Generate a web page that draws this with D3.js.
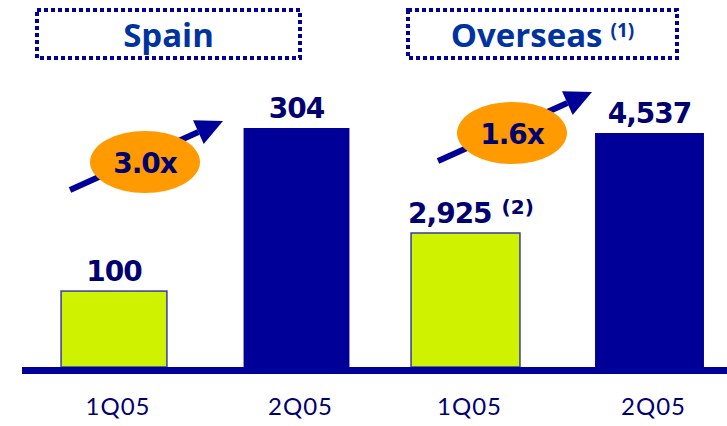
<!DOCTYPE html>
<html>
<head>
<meta charset="utf-8">
<script src="https://cdn.jsdelivr.net/npm/d3@7"></script>
<style>
  html, body { margin: 0; padding: 0; background: #fff; }
  svg { display: block; }
</style>
</head>
<body>
<svg id="chart" width="727" height="426"></svg>
<script>
// Quarterly volumes, Spain vs Overseas
const panelNames = ["Spain", "Overseas"];
const panelNotes = [null, "(1)"];
const quarters = ["1Q05", "2Q05"];
const spainValues = [100, 304];
const overseasValues = [2925, 4537];
const valueNotes = [[null, null], ["(2)", null]];
const growthLabels = ["3.0x", "1.6x"];

const NAVY = "#000070";
const BLUE = "#000099";
const TITLE_BLUE = "#0033a0";
const LIME = "#cff200";
const ORANGE = "#ff9a00";

const svg = d3.select("#chart");
const fmt = d3.format(",");
const baseY = 367;

// Per-panel layout: x range of the band scale, y domain / top, title box, growth arrow
const layout = [
  {
    values: spainValues,
    xRange: [22.75, 387.75], padIn: 0.42, padOut: 0.21,
    yDomain: [5, 304], yTop: 128,
    axis: [22, 385],
    box: [37, 10, 263, 48],
    arrow: [[70, 190], [223, 121]],
    bubble: [145, 162]
  },
  {
    values: overseasValues,
    xRange: [373.5, 741.5], padIn: 0.408, padOut: 0.204,
    yDomain: [765, 4537], yTop: 133,
    axis: [372, 727],
    box: [408, 10, 269, 48],
    arrow: [[438, 161], [592, 92]],
    bubble: [512, 133]
  }
];

layout.forEach((p, i) => {
  const g = svg.append("g");

  const x = d3.scaleBand().domain(quarters).range(p.xRange)
    .paddingInner(p.padIn).paddingOuter(p.padOut);
  const y = d3.scaleLinear().domain(p.yDomain).range([baseY, p.yTop]);

  // title box with dotted frame
  const [bx, by, bw, bh] = p.box;
  g.append("rect")
    .attr("x", bx).attr("y", by).attr("width", bw).attr("height", bh)
    .attr("fill", "none").attr("stroke", BLUE).attr("stroke-width", 4)
    .attr("stroke-dasharray", "4,3");
  const title = g.append("text")
    .attr("x", bx + bw / 2).attr("y", by + 37)
    .attr("text-anchor", "middle")
    .attr("font-family", "'Open Sans', sans-serif")
    .attr("font-weight", 700).attr("font-size", 33)
    .attr("fill", TITLE_BLUE)
    .text(panelNames[i]);
  if (panelNotes[i]) {
    title.append("tspan").attr("dx", 8).attr("dy", -10)
      .attr("font-size", 19).text(panelNotes[i]);
  }

  // bars
  g.selectAll("rect.bar").data(p.values).join("rect")
    .attr("class", "bar")
    .attr("x", (d, j) => x(quarters[j]))
    .attr("width", x.bandwidth())
    .attr("y", d => y(d))
    .attr("height", d => baseY - y(d))
    .attr("fill", (d, j) => j === 0 ? LIME : BLUE)
    .attr("stroke", (d, j) => j === 0 ? "#3a3aa8" : "none")
    .attr("stroke-width", 1.5);

  // value labels
  const labels = g.selectAll("text.val").data(p.values).join("text")
    .attr("class", "val")
    .attr("x", (d, j) => x(quarters[j]) + x.bandwidth() / 2)
    .attr("y", d => y(d) - 10)
    .attr("text-anchor", "middle")
    .attr("font-family", "'DejaVu Sans', sans-serif")
    .attr("font-weight", 700).attr("font-size", 28)
    .attr("letter-spacing", -1)
    .attr("fill", NAVY)
    .text(d => fmt(d));
  labels.each(function (d, j) {
    const note = valueNotes[i][j];
    if (note) {
      d3.select(this).append("tspan")
        .attr("dx", 10).attr("dy", -9)
        .attr("font-size", 20).attr("letter-spacing", 0)
        .text(note);
    }
  });
  // value with a trailing note starts at the bar's left edge
  labels.filter((d, j) => valueNotes[i][j])
    .attr("text-anchor", "start")
    .attr("x", function (d) {
      const idx = p.values.indexOf(d);
      return x(quarters[idx]) - 3;
    });

  // baseline
  g.append("rect")
    .attr("x", p.axis[0]).attr("y", baseY)
    .attr("width", p.axis[1] - p.axis[0]).attr("height", 7)
    .attr("fill", BLUE);

  // category axis labels
  const axis = d3.axisBottom(x).tickSize(0).tickPadding(0);
  const ax = g.append("g").attr("transform", `translate(4,${baseY + 48})`).call(axis);
  ax.select(".domain").remove();
  ax.selectAll("text")
    .attr("dy", 0)
    .attr("font-family", "Lato, sans-serif")
    .attr("font-size", 24)
    .attr("letter-spacing", 1)
    .attr("fill", NAVY);

  // growth arrow
  const [[x1, y1], [x2, y2]] = p.arrow;
  const ang = Math.atan2(y2 - y1, x2 - x1);
  const headLen = 27, headHalf = 13;
  const hx = x2 - headLen * Math.cos(ang), hy = y2 - headLen * Math.sin(ang);
  g.append("line")
    .attr("x1", x1).attr("y1", y1).attr("x2", hx).attr("y2", hy)
    .attr("stroke", BLUE).attr("stroke-width", 6);
  const nx = -Math.sin(ang), ny = Math.cos(ang);
  g.append("path")
    .attr("d", `M${x2},${y2}L${hx + nx * headHalf},${hy + ny * headHalf}L${hx - nx * headHalf},${hy - ny * headHalf}Z`)
    .attr("fill", BLUE);

  // growth bubble
  const [cx, cy] = p.bubble;
  g.append("ellipse")
    .attr("cx", cx).attr("cy", cy).attr("rx", 55).attr("ry", 31)
    .attr("fill", ORANGE);
  g.append("text")
    .attr("x", cx).attr("y", cy + 11)
    .attr("text-anchor", "middle")
    .attr("font-family", "'DejaVu Sans', sans-serif")
    .attr("font-weight", 700).attr("font-size", 28)
    .attr("letter-spacing", -1)
    .attr("fill", NAVY)
    .text(growthLabels[i]);
});
</script>
</body>
</html>
